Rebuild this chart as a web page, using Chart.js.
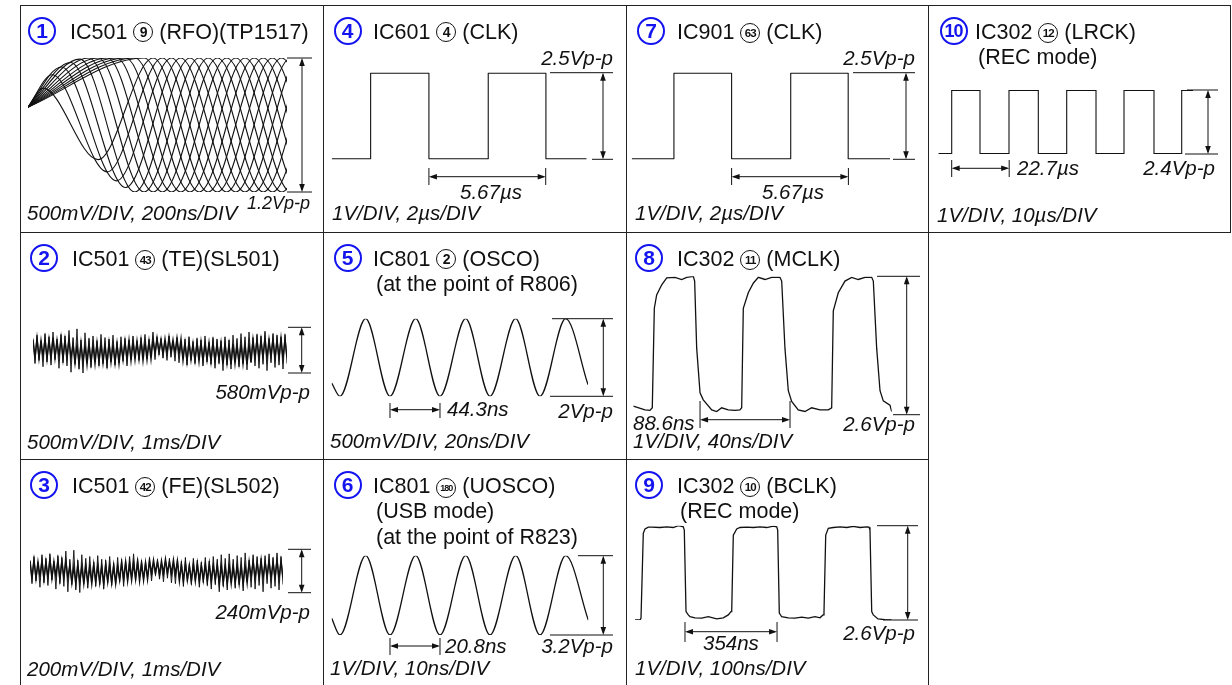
<!DOCTYPE html>
<html>
<head>
<meta charset="utf-8">
<script src="https://cdn.jsdelivr.net/npm/chart.js@4.4.1/dist/chart.umd.min.js"></script>
<style>
  html, body { margin: 0; padding: 0; background: #fff; }
  #page { position: relative; width: 1232px; height: 685px; overflow: hidden;
          font-family: "Liberation Sans", Arial, sans-serif; color: #111; }
  .ln { position: absolute; background: #222; }
  canvas { position: absolute; }
  .t, .i { position: absolute; white-space: nowrap; }
  .t { font-size: 21.5px; line-height: 21.5px; }
  .i { font-size: 20.5px; line-height: 20.5px; font-style: italic; }
  .num { position: absolute; width: 24px; height: 24px; border: 2.2px solid #1414f0; border-radius: 50%;
         color: #1414f0; font-weight: bold; font-size: 21px; line-height: 24px; text-align: center; }
  .num.two { font-size: 18px; letter-spacing: -1px; }
  .cc { display: inline-block; width: 18px; height: 18px; border: 1.2px solid #111; border-radius: 50%;
        font-size: 14px; font-weight: bold; line-height: 18px; text-align: center; vertical-align: 2px;
        letter-spacing: -0.5px; }
  .cc.c2 { font-size: 11.5px; letter-spacing: -0.8px; }
  .cc.c3 { font-size: 9px; letter-spacing: -1px; }
</style>
</head>
<body>
<div id="page"></div>
<script>
// ---- panel 1: RFO eye pattern (ns, V); every trace leaves the trigger point
const eyeStartNs = 0;
const eyeStartV = 0.16;
const eyePeakNs = [116, 187, 258, 329, 400, 471, 542, 613, 684, 755, 826, 897];
const eyeFirstPeakV = [0.33, 0.45, 0.52, 0.56, 0.59, 0.6, 0.6, 0.6, 0.6, 0.6, 0.6, 0.6];
const eyeFirstTroughV = [-0.31, -0.42, -0.5, -0.56, -0.6, -0.6, -0.6, -0.6, -0.6, -0.6, -0.6, -0.6];
const eyeHalfNs = 425;
const eyeAmpV = 0.6;

// ---- panel 2: TE, spikes and core in mV
const teHi = [150,190,120,210,170,230,140,200,180,250,160,270,130,220,150,180,120,200,160,140,190,110,170,150,130,180,120,160,200,140,230,170,150,120,180,110,160,90,140,170,110,150,130,180,100,160,140,120,170,130,190,150,210,170,230,160,200,180,240,150,210,190,170,200];
const teLo = [-170,-130,-210,-150,-190,-120,-230,-160,-200,-280,-180,-240,-290,-160,-220,-140,-200,-170,-230,-150,-190,-160,-140,-200,-120,-90,-130,-70,-110,-80,-120,-60,-100,-130,-90,-140,-160,-110,-190,-130,-170,-120,-200,-150,-180,-230,-170,-260,-190,-240,-150,-210,-170,-250,-140,-200,-230,-180,-260,-160,-220,-190,-240,-170];
const teCore = [130,-90,150,-100,120,-80,140,-110,130,-90,160,-100,120,-80,150,-110,130,-90,140,-100,
    80,-160,70,-170,90,-150,60,-180,80,-160,70,-170,90,-150,80,-160,60,-170,90,-150,70,-160,80,-170,70,
    -120,110,-110,120,-130,100,-120,110,-110,120,-130,100,-120,110,-110,
    140,-40,150,-30,130,-50,140,-40,160,-30,130,-40,150,-50,140,
    -130,90,-140,100,-120,80,-130,90,-140,100,-130,80,-120,90,-140,100,-130,80,-120,90,
    -170,80,-160,70,-180,80,-170,60,-160,80,-170,70,-180,80,-160,
    130,-90,140,-100,130,-90,150,-100,130,-80,140,-100,130,-90,150,-100,140,-90];

// ---- panel 3: FE, spikes and core in mV
const feHi = [60,80,50,90,70,95,55,85,75,110,65,115,60,90,70,80,50,85,65,60,80,45,75,65,55,80,95,70,60,50,75,45,65,40,60,70,45,65,55,75,40,70,60,50,75,55,80,65,90,70,95,65,85,75,100,60,90,80,70,85,95,75,100,80];
const feLo = [-70,-55,-90,-65,-80,-50,-100,-70,-85,-115,-75,-105,-120,-70,-95,-60,-85,-75,-100,-65,-80,-70,-60,-85,-50,-35,-55,-30,-45,-35,-55,-25,-45,-60,-40,-65,-70,-50,-85,-60,-75,-55,-90,-65,-80,-100,-75,-115,-85,-105,-65,-95,-75,-110,-60,-90,-100,-80,-115,-70,-95,-85,-105,-75];
const feCore = [55,-35,60,-40,50,-30,55,-45,50,-35,65,-40,50,-30,60,-45,55,-35,55,-40,
    30,-65,25,-70,35,-60,25,-70,30,-65,25,-70,35,-60,30,-65,25,-70,35,-60,30,-65,30,-70,25,
    -50,45,-45,50,-55,40,-50,45,-45,50,-55,40,-50,45,-45,
    55,-15,60,-10,50,-20,55,-15,65,-10,50,-15,60,-20,55,
    -55,35,-55,40,-50,30,-55,35,-55,40,-55,30,-50,35,-55,40,-55,30,-50,35,
    -70,30,-65,25,-70,30,-70,25,-65,30,-70,25,-70,30,-65,
    50,-35,55,-40,50,-35,60,-40,50,-30,55,-40,50,-35,60,-40,55,-35];

// ---- panel 4 / 7: CLK (us, V)
const clk4Us = [0, 1.89, 1.89, 4.72, 4.72, 7.60, 7.60, 10.40, 10.40, 12.38];
const clk7Us = [0, 2.05, 2.05, 4.85, 4.85, 7.72, 7.72, 10.51, 10.51, 12.54];
const clkV = [0, 0, 2.5, 2.5, 0, 0, 2.5, 2.5, 0, 0];

// ---- panel 5 / 6: oscillator (ns, V)
const osc5Ns = [0, 7.35, 30.1, 51.65, 74.4, 95.95, 118.7, 140.25, 162.95, 184.55, 207.3, 227.1];
const osc5V = [-0.66, -1, 1, -1, 1, -1, 1, -1, 1, -1, 1, -0.70];
const osc6Ns = [0, 3.45, 14.14, 24.25, 34.94, 45.05, 55.74, 65.85, 76.54, 86.65, 97.34, 106.74];
const osc6V = [-0.93, -1.6, 1.6, -1.6, 1.6, -1.6, 1.6, -1.6, 1.6, -1.6, 1.6, -1.0];

// ---- panel 8: MCLK (ns, V)
const mclkNs = [0, 11.5, 16.4, 18.7, 20.7, 23.0, 28.0, 32.9, 41.1, 47.6, 52.6, 59.1, 60.4, 62.4, 65.7, 68.9, 77.2, 82.1, 87.0, 93.5, 100.1, 105.0, 106.7, 108.3, 113.2, 118.1, 123.1, 129.7, 136.2, 144.4, 146.1, 149.3, 152.6, 155.9, 162.4, 169.0, 175.6, 183.8, 192.0, 195.3, 196.9, 201.8, 208.4, 215.0, 221.5, 228.1, 234.7, 236.3, 239.6, 242.9, 246.1, 252.7, 254.4];
const mclkV = [0.16, 0.09, 0.08, 0.13, 2.0, 2.25, 2.44, 2.57, 2.58, 2.54, 2.58, 2.6, 2.51, 1.25, 0.41, 0.28, 0.09, 0.06, 0.13, 0.09, 0.08, 0.09, 0.13, 2.0, 2.29, 2.47, 2.58, 2.54, 2.58, 2.58, 2.51, 1.25, 0.45, 0.25, 0.09, 0.06, 0.13, 0.09, 0.09, 0.13, 1.95, 2.29, 2.51, 2.58, 2.54, 2.58, 2.58, 2.51, 1.25, 0.45, 0.26, 0.18, 0.06];

// ---- panel 9: BCLK (ns, V)
const bclkNs = [0, 19.2, 23.1, 31.9, 38.5, 51.2, 64.2, 96.2, 121.9, 147.3, 166.5, 185.8, 189.6, 196.2, 205.0, 211.5, 230.8, 256.5, 281.9, 314.2, 339.6, 358.8, 369.2, 371.9, 378.1, 391.2, 403.8, 429.6, 455.0, 480.8, 506.5, 532.0, 545.0, 548.8, 555.0, 564.2, 589.6, 615.4, 641.2, 666.5, 692.3, 711.5, 723.1, 726.9, 733.5, 743.5, 762.7, 788.5, 814.2, 839.6, 865.4, 891.2, 900.0, 903.8, 910.4, 916.5, 934.6, 961.5, 987.3];
const bclkV = [0, 0, 0.05, 2.39, 2.51, 2.56, 2.56, 2.55, 2.57, 2.55, 2.6, 2.57, 2.48, 0.23, 0.14, 0.09, 0.06, 0.05, 0.09, 0.03, 0.06, 0.14, 0.23, 0.23, 2.34, 2.51, 2.55, 2.56, 2.55, 2.57, 2.55, 2.59, 2.57, 2.48, 0.19, 0.09, 0.06, 0.05, 0.08, 0.05, 0.09, 0.06, 0.14, 0.23, 2.34, 2.53, 2.55, 2.57, 2.55, 2.58, 2.55, 2.57, 2.56, 2.48, 0.23, 0.14, 0.03, 0.01, 0];

// ---- panel 10: LRCK (us, V)
const lrckUs = [0, 5.29, 5.29, 16.46, 16.46, 27.91, 27.91, 39.48, 39.48, 50.69, 50.69, 62.26, 62.26, 73.31, 73.31, 85.15, 85.15, 96.09, 96.09, 100.55];
const lrckV = [0, 0, 2.4, 2.4, 0, 0, 2.4, 2.4, 0, 0, 2.4, 2.4, 0, 0, 2.4, 2.4, 0, 0, 2.4, 2.4];

// ---------------------------------------------------------------
const page = document.getElementById('page');
const cols = [20, 323, 626, 928, 1230];
const rows = [5, 232, 459, 685];

function pts(xs, ys) {
    return xs.map((x, i) => ({x: x, y: ys[i]}));
}

// spread a sample list evenly over the time window
function spread(vals, span) {
    return vals.map((v, i) => ({x: i * span / (vals.length - 1), y: v}));
}

function zigzag(hi, lo, span) {
    const out = [];
    hi.forEach((h, i) => { out.push(h); out.push(lo[i]); });
    return spread(out, span);
}

function eyeTrace(k) {
    const tp = eyePeakNs[k];
    const p = [
        {x: eyeStartNs, y: eyeStartV},
        {x: tp, y: eyeFirstPeakV[k]},
        {x: tp + eyeHalfNs, y: eyeFirstTroughV[k]}
    ];
    let t = tp + 2 * eyeHalfNs, s = 1;
    while (t < 2000 + 2 * eyeHalfNs) {
        p.push({x: t, y: s * eyeAmpV});
        s = -s;
        t += eyeHalfNs;
    }
    return p;
}

const flatThick = { borderWidth: (ctx) => ctx.p0.parsed.y === ctx.p1.parsed.y ? 2.2 : 1.1 };
const line = (data, extra) => Object.assign({data: data, borderColor: '#111', borderWidth: 1.2, pointRadius: 0, fill: false}, extra || {});

const panels = [
    { cell: [0, 0], box: [28, 58, 287, 192], x: [0, 2000], y: [-0.6, 0.6],
      datasets: eyePeakNs.map((_, k) => line(eyeTrace(k), {cubicInterpolationMode: 'monotone', borderWidth: 1.1})),
      vdim: {x: 302, top: 0.6, bot: -0.6, topTick: [287, 312], botTick: [287, 312]} },
    { cell: [0, 1], box: [33, 327.3, 287, 373], x: [0, 10], y: [-290, 290],
      datasets: [line(zigzag(teHi, teLo, 10), {borderWidth: 0.9}), line(spread(teCore, 10), {borderWidth: 1.5})],
      vdim: {x: 301.7, top: 290, bot: -290, topTick: [288, 311], botTick: [288, 311]} },
    { cell: [0, 2], box: [30, 549.3, 283, 592.7], x: [0, 10], y: [-120, 120],
      datasets: [line(zigzag(feHi, feLo, 10), {borderWidth: 0.9}), line(spread(feCore, 10), {borderWidth: 1.5})],
      vdim: {x: 301.7, top: 120, bot: -120, topTick: [288, 311], botTick: [288, 311]} },
    { cell: [1, 0], box: [331.7, 72.7, 586.7, 159.3], x: [0, 12.38], y: [0, 2.5],
      datasets: [line(pts(clk4Us, clkV), {segment: flatThick})],
      vdim: {x: 603, top: 2.5, bot: 0, topTick: [550, 613], botTick: [592, 613]},
      hdim: {y: 176.7, from: 4.72, to: 4.72 + 5.67, tick: [168, 185]} },
    { cell: [1, 1], box: [331.7, 318.7, 588, 396.3], x: [0, 227.1], y: [-1, 1],
      datasets: [line(pts(osc5Ns, osc5V), {cubicInterpolationMode: 'monotone', borderWidth: 1.3})],
      vdim: {x: 603.3, top: 1, bot: -1, topTick: [552, 613], botTick: [550, 613]},
      hdim: {y: 409.7, from: 51.65, to: 51.65 + 44.3, tick: [403, 418]} },
    { cell: [1, 2], box: [331.7, 555.7, 588.3, 635], x: [0, 106.74], y: [-1.6, 1.6],
      datasets: [line(pts(osc6Ns, osc6V), {cubicInterpolationMode: 'monotone', borderWidth: 1.3})],
      vdim: {x: 603.3, top: 1.6, bot: -1.6, topTick: [578, 613], botTick: [550, 613]},
      hdim: {y: 646, from: 24.25, to: 24.25 + 20.8, tick: [638, 655]} },
    { cell: [2, 0], box: [631.7, 72.7, 890, 159.3], x: [0, 12.54], y: [0, 2.5],
      datasets: [line(pts(clk7Us, clkV), {segment: flatThick})],
      vdim: {x: 906, top: 2.5, bot: 0, topTick: [853, 915], botTick: [893, 915]},
      hdim: {y: 176.7, from: 4.85, to: 4.85 + 5.67, tick: [168, 185]} },
    { cell: [2, 1], box: [633.3, 276.3, 891.7, 414.7], x: [0, 254.4], y: [0, 2.6],
      datasets: [line(pts(mclkNs, mclkV), {borderWidth: 1.3})],
      vdim: {x: 906.7, top: 2.6, bot: 0, topTick: [877, 920], botTick: [893, 920]},
      hdim: {y: 419.7, from: 65.7, to: 65.7 + 88.6, tick: [401, 428]} },
    { cell: [2, 2], box: [635, 525.7, 891.7, 620], x: [0, 987.3], y: [0, 2.6],
      datasets: [line(pts(bclkNs, bclkV), {borderWidth: 1.3})],
      vdim: {x: 907.7, top: 2.6, bot: 0, topTick: [877, 918], botTick: [883, 918]},
      hdim: {y: 631.7, from: 192.3, to: 192.3 + 354, tick: [622, 642]} },
    { cell: [3, 0], box: [938.3, 90, 1193, 154], x: [0, 100.55], y: [0, 2.4],
      datasets: [line(pts(lrckUs, lrckV), {segment: flatThick})],
      vdim: {x: 1208, top: 2.4, bot: 0, topTick: [1187, 1218], botTick: [1185, 1218]},
      hdim: {y: 168.3, from: 5.29, to: 5.29 + 22.7, tick: [160, 177]} }
];

function head(ctx, x, y, dx, dy) {
    const L = 8, W = 2.8;
    ctx.beginPath();
    ctx.moveTo(x, y);
    ctx.lineTo(x - dx * L - dy * W, y - dy * L + dx * W);
    ctx.lineTo(x - dx * L + dy * W, y - dy * L - dx * W);
    ctx.closePath();
    ctx.fill();
}

function seg(ctx, x1, y1, x2, y2) {
    ctx.beginPath();
    ctx.moveTo(x1, y1);
    ctx.lineTo(x2, y2);
    ctx.stroke();
}

function dimPlugin(p, L, T) {
    return {
        id: 'dims',
        afterDraw(chart) {
            const ctx = chart.ctx;
            const xs = chart.scales.x, ys = chart.scales.y;
            ctx.save();
            ctx.strokeStyle = '#111';
            ctx.fillStyle = '#111';
            ctx.lineWidth = 1;
            if (p.vdim) {
                const d = p.vdim;
                const yt = ys.getPixelForValue(d.top), yb = ys.getPixelForValue(d.bot);
                const x = d.x - L;
                seg(ctx, d.topTick[0] - L, yt, d.topTick[1] - L, yt);
                seg(ctx, d.botTick[0] - L, yb, d.botTick[1] - L, yb);
                seg(ctx, x, yt + 2, x, yb - 2);
                head(ctx, x, yt, 0, -1);
                head(ctx, x, yb, 0, 1);
            }
            if (p.hdim) {
                const d = p.hdim;
                const xa = xs.getPixelForValue(d.from), xb = xs.getPixelForValue(d.to);
                const y = d.y - T;
                seg(ctx, xa, d.tick[0] - T, xa, d.tick[1] - T);
                seg(ctx, xb, d.tick[0] - T, xb, d.tick[1] - T);
                seg(ctx, xa + 2, y, xb - 2, y);
                head(ctx, xa, y, -1, 0);
                head(ctx, xb, y, 1, 0);
            }
            ctx.restore();
        }
    };
}

function makeChart(p) {
    const [ci, ri] = p.cell;
    const L = cols[ci], R = cols[ci + 1], T = rows[ri], B = rows[ri + 1];
    const cv = document.createElement('canvas');
    cv.width = R - L;
    cv.height = B - T;
    cv.style.left = L + 'px';
    cv.style.top = T + 'px';
    page.appendChild(cv);
    const [bl, bt, br, bb] = p.box;
    new Chart(cv, {
        type: 'line',
        data: { datasets: p.datasets },
        options: {
            responsive: false,
            animation: false,
            events: [],
            layout: { padding: { left: bl - L, top: bt - T, right: R - br, bottom: B - bb } },
            plugins: { legend: { display: false }, tooltip: { enabled: false } },
            scales: {
                x: { type: 'linear', display: false, min: p.x[0], max: p.x[1] },
                y: { type: 'linear', display: false, min: p.y[0], max: p.y[1] }
            }
        },
        plugins: [dimPlugin(p, L, T)]
    });
}

// grid
function rule(x, y, w, h) {
    const d = document.createElement('div');
    d.className = 'ln';
    d.style.left = x + 'px'; d.style.top = y + 'px';
    d.style.width = w + 'px'; d.style.height = h + 'px';
    page.appendChild(d);
}
rule(20, 5, 1211, 1);
rule(20, 232, 1211, 1);
rule(20, 459, 909, 1);
[20, 323, 626, 928].forEach((x) => rule(x, 5, 1, 680));
rule(1230, 5, 1, 228);

panels.forEach(makeChart);

// text; [n] marks a pin number drawn in a small circle
function circ(s) {
    return s.replace(/\[(\d+)\]/g, (m, c) =>
        `<span class="cc${c.length > 2 ? ' c3' : c.length > 1 ? ' c2' : ''}">${c}</span>`);
}

function text(cls, s, x, base, right, size) {
    const el = document.createElement('div');
    el.className = cls;
    el.innerHTML = circ(s);
    const f = size || (cls === 't' ? 21.5 : 20.5);
    if (size) { el.style.fontSize = f + 'px'; el.style.lineHeight = f + 'px'; }
    el.style.top = (base - 0.85 * f) + 'px';
    if (right) el.style.right = (1232 - x) + 'px';
    else el.style.left = x + 'px';
    page.appendChild(el);
}

function num(n, cx, cy) {
    const el = document.createElement('div');
    el.className = 'num' + (n.length > 1 ? ' two' : '');
    el.textContent = n;
    el.style.left = (cx - 14) + 'px';
    el.style.top = (cy - 14) + 'px';
    page.appendChild(el);
}

const titles = [
    ['1', 42, 31, 70, 40, ['IC501 [9] (RFO)(TP1517)']],
    ['4', 347.5, 31, 373, 40, ['IC601 [4] (CLK)']],
    ['7', 651, 31, 677, 40, ['IC901 [63] (CLK)']],
    ['10', 953.5, 31, 975, 40, ['IC302 [12] (LRCK)', '(REC mode)']],
    ['2', 44, 258, 72, 267, ['IC501 [43] (TE)(SL501)']],
    ['5', 347.5, 258, 373, 267, ['IC801 [2] (OSCO)', '(at the point of R806)']],
    ['8', 649, 258, 677, 267, ['IC302 [11] (MCLK)']],
    ['3', 44, 485, 72, 494, ['IC501 [42] (FE)(SL502)']],
    ['6', 347.5, 485, 373, 494, ['IC801 [180] (UOSCO)', '(USB mode)', '(at the point of R823)']],
    ['9', 649, 485, 677, 494, ['IC302 [10] (BCLK)', '(REC mode)']]
];
titles.forEach(([n, cx, cy, tx, base, lines]) => {
    num(n, cx, cy);
    lines.forEach((s, i) => text('t', s, i === 0 ? tx : tx + 3, base + i * 25.5));
});

const labels = [
    ['1.2Vp-p', 310, 209, true, 18],
    ['500mV/DIV, 200ns/DIV', 27, 220],
    ['2.5Vp-p', 613, 65, true],
    ['5.67µs', 460, 199],
    ['1V/DIV, 2µs/DIV', 332, 220],
    ['2.5Vp-p', 915, 65, true],
    ['5.67µs', 762, 199],
    ['1V/DIV, 2µs/DIV', 635, 220],
    ['22.7µs', 1017, 175],
    ['2.4Vp-p', 1215, 175, true],
    ['1V/DIV, 10µs/DIV', 937, 222],
    ['580mVp-p', 310, 399, true],
    ['500mV/DIV, 1ms/DIV', 27, 449],
    ['240mVp-p', 310, 619, true],
    ['200mV/DIV, 1ms/DIV', 27, 676],
    ['44.3ns', 447, 416],
    ['2Vp-p', 613, 418, true],
    ['500mV/DIV, 20ns/DIV', 330, 448],
    ['20.8ns', 445, 653],
    ['3.2Vp-p', 613, 653, true],
    ['1V/DIV, 10ns/DIV', 330, 675],
    ['88.6ns', 633, 430],
    ['1V/DIV, 40ns/DIV', 633, 448],
    ['2.6Vp-p', 915, 431, true],
    ['354ns', 703, 650],
    ['2.6Vp-p', 915, 640, true],
    ['1V/DIV, 100ns/DIV', 635, 675]
];
labels.forEach(([s, x, b, r, size]) => text('i', s, x, b, r, size));
</script>
</body>
</html>
